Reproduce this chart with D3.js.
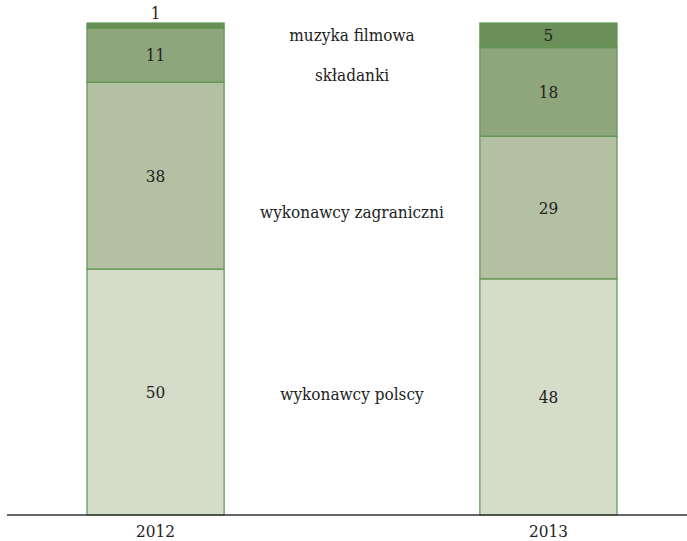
<!DOCTYPE html>
<html>
<head>
<meta charset="utf-8">
<script src="https://cdn.jsdelivr.net/npm/d3@7"></script>
<style>
  body { margin: 0; background: #fff; }
</style>
</head>
<body>
<svg id="chart" width="687" height="541"></svg>
<script>
// data
var years = ['2012', '2013'];
var series = ['wykonawcy polscy', 'wykonawcy zagraniczni', 'składanki', 'muzyka filmowa'];
var values2012 = [50, 38, 11, 1];
var values2013 = [48, 29, 18, 5];
var colors = ['#d5dcc9', '#b3c0a2', '#8fa67c', '#6b8f59'];

var font = "'DejaVu Serif Condensed', 'Liberation Serif', serif";
var svg = d3.select('#chart');
var baseY = 515, topY = 23;

var x = d3.scaleBand().domain(years).range([7, 697]).paddingInner(0.651).paddingOuter(0.2036);
var y = d3.scaleLinear().domain([0, 100]).range([baseY, topY]);

var rows = [values2012, values2013];
var stacked = rows.map(function(vals, i) {
  var acc = 0;
  return vals.map(function(v, j) {
    var seg = { year: years[i], s: j, v: v, y0: acc, y1: acc + v };
    acc += v;
    return seg;
  });
});

// bars
var g = svg.append('g');
stacked.forEach(function(segs) {
  g.selectAll(null).data(segs).enter().append('rect')
    .attr('x', function(d) { return x(d.year); })
    .attr('width', x.bandwidth())
    .attr('y', function(d) { return y(d.y1); })
    .attr('height', function(d) { return y(d.y0) - y(d.y1); })
    .attr('fill', function(d) { return colors[d.s]; })
    .attr('stroke', '#5e9450')
    .attr('stroke-width', 1.2);

  // values
  g.selectAll(null).data(segs).enter().append('text')
    .attr('x', function(d) { return x(d.year) + x.bandwidth() / 2; })
    .attr('y', function(d) {
      var h = y(d.y0) - y(d.y1);
      if (h < 14) return y(d.y1) - 4; // too small, put above
      return (y(d.y0) + y(d.y1)) / 2 + 6;
    })
    .attr('text-anchor', 'middle')
    .attr('font-family', font)
    .attr('fill', '#222')
    .style('font-size', '17px')
    .text(function(d) { return d.v; });
});

// series names between the bars
var nudge = [0, 20, 2, 5];
var midX = (x('2012') + x.bandwidth() + x('2013')) / 2;
svg.selectAll('.series-label').data(series).enter().append('text')
  .attr('class', 'series-label')
  .attr('x', midX)
  .attr('y', function(d, j) {
    var m1 = (y(stacked[0][j].y0) + y(stacked[0][j].y1)) / 2;
    var m2 = (y(stacked[1][j].y0) + y(stacked[1][j].y1)) / 2;
    return (m1 + m2) / 2 + 6 + nudge[j];
  })
  .attr('text-anchor', 'middle')
  .attr('font-family', font)
  .attr('fill', '#222')
  .style('font-size', '17px')
  .text(function(d) { return d; });

// axis
svg.append('line')
  .attr('x1', 7).attr('x2', 687)
  .attr('y1', baseY).attr('y2', baseY)
  .attr('stroke', '#333').attr('stroke-width', 1.5);

svg.selectAll('.tick-label').data(years).enter().append('text')
  .attr('class', 'tick-label')
  .attr('x', function(d) { return x(d) + x.bandwidth() / 2; })
  .attr('y', baseY + 22)
  .attr('text-anchor', 'middle')
  .attr('font-family', font)
  .attr('fill', '#222')
  .style('font-size', '17px')
  .text(function(d) { return d; });
</script>
</body>
</html>
